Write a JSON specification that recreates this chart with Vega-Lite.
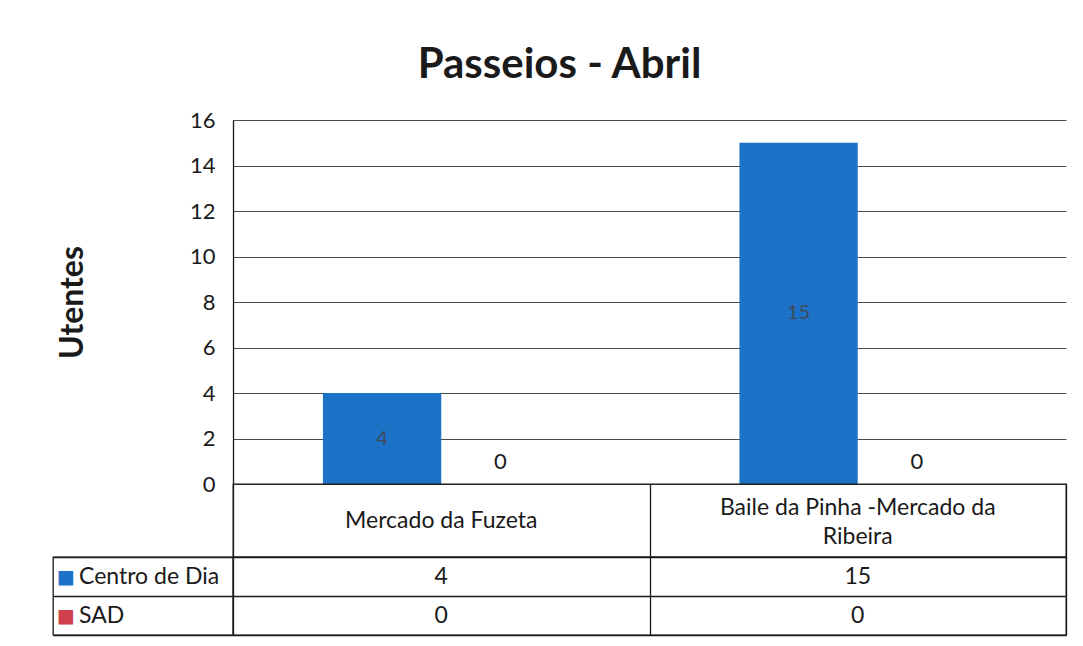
{
  "$schema": "https://vega.github.io/schema/vega-lite/v6.json",
  "background": "white",
  "padding": {"left": 52, "right": 18, "top": 44, "bottom": 11},
  "title": {"text": "Passeios - Abril", "font": "Lato", "fontSize": 42, "fontWeight": "bold", "color": "#1a1a1a", "anchor": "middle", "offset": 22},
  "datasets": {
    "main": [
      {"category": "Mercado da Fuzeta", "series": "Centro de Dia", "value": 4},
      {"category": "Mercado da Fuzeta", "series": "SAD", "value": 0},
      {"category": "Baile da Pinha -Mercado da Ribeira", "series": "Centro de Dia", "value": 15},
      {"category": "Baile da Pinha -Mercado da Ribeira", "series": "SAD", "value": 0}
    ],
    "cats": [
      {"category": "Mercado da Fuzeta", "label": ["Mercado da Fuzeta"]},
      {"category": "Baile da Pinha -Mercado da Ribeira", "label": ["Baile da Pinha -Mercado da", "Ribeira"]}
    ],
    "rows": [
      {"series": "Centro de Dia"},
      {"series": "SAD"}
    ]
  },
  "columns": 2,
  "spacing": 0,
  "bounds": "flush",
  "concat": [
    {
      "width": 180, "height": 364,
      "data": {"values": [{}]},
      "mark": {"type": "text", "text": ""},
      "view": {"stroke": null}
    },
    {
      "width": 833, "height": 364,
      "data": {"name": "main"},
      "view": {"stroke": null},
      "layer": [
        {
          "mark": {"type": "bar"},
          "encoding": {
            "x": {"field": "category", "type": "nominal", "sort": null, "scale": {"paddingInner": 0, "paddingOuter": 0}, "axis": null},
            "xOffset": {"field": "series", "type": "nominal", "sort": null, "scale": {"paddingInner": 0, "paddingOuter": 0.76}},
            "y": {"field": "value", "type": "quantitative", "scale": {"domain": [0, 16]},
              "axis": {"values": [0, 2, 4, 6, 8, 10, 12, 14, 16], "title": "Utentes", "titleFontSize": 32, "titleFontWeight": "bold", "titleColor": "#1a1a1a", "titlePadding": 100,
                "labelFontSize": 22, "labelColor": "#1a1a1a", "labelPadding": 18, "ticks": false, "domainColor": "#1a1a1a", "domainWidth": 1.3,
                "grid": true, "gridColor": "#4a4a4a", "gridWidth": 1.2, "minExtent": 44, "maxExtent": 44}},
            "color": {"field": "series", "type": "nominal", "scale": {"domain": ["Centro de Dia", "SAD"], "range": ["#1c72c6", "#d0404c"]}, "legend": null}
          }
        },
        {
          "transform": [{"filter": "datum.value > 0"}],
          "mark": {"type": "text", "baseline": "middle", "fontSize": 20, "color": "#3e4a5a"},
          "encoding": {
            "x": {"field": "category", "type": "nominal", "sort": null, "scale": {"paddingInner": 0, "paddingOuter": 0}, "axis": null},
            "xOffset": {"field": "series", "type": "nominal", "sort": null, "scale": {"paddingInner": 0, "paddingOuter": 0.76}},
            "y": {"field": "value", "type": "quantitative", "scale": {"domain": [0, 32]}, "axis": null},
            "text": {"field": "value", "type": "quantitative"}
          }
        },
        {
          "transform": [{"filter": "datum.value == 0"}],
          "mark": {"type": "text", "baseline": "middle", "fontSize": 22, "color": "#1a1a1a", "dy": -22},
          "encoding": {
            "x": {"field": "category", "type": "nominal", "sort": null, "scale": {"paddingInner": 0, "paddingOuter": 0}, "axis": null},
            "xOffset": {"field": "series", "type": "nominal", "sort": null, "scale": {"paddingInner": 0, "paddingOuter": 0.76}},
            "y": {"field": "value", "type": "quantitative", "scale": {"domain": [0, 16]}, "axis": null},
            "text": {"field": "value", "type": "quantitative"}
          }
        }
      ],
      "resolve": {"scale": {"y": "independent"}}
    },
    {
      "width": 180, "height": 73,
      "data": {"values": [{}]},
      "mark": {"type": "text", "text": ""},
      "view": {"stroke": null}
    },
    {
      "width": 833, "height": 73,
      "data": {"name": "cats"},
      "encoding": {
        "x": {"field": "category", "type": "nominal", "sort": null, "scale": {"paddingInner": 0, "paddingOuter": 0},
          "axis": {"title": null, "labels": false, "ticks": false, "domain": false, "grid": true, "tickBand": "extent", "gridColor": "#1a1a1a", "gridWidth": 1.3}},
        "text": {"field": "label"}
      },
      "layer": [
        {
          "transform": [{"filter": "length(datum.label) == 1"}],
          "mark": {"type": "text", "fontSize": 23, "lineHeight": 29, "baseline": "middle", "color": "#1a1a1a"}
        },
        {
          "transform": [{"filter": "length(datum.label) > 1"}],
          "mark": {"type": "text", "fontSize": 23, "lineHeight": 29, "baseline": "middle", "color": "#1a1a1a", "dy": -13}
        }
      ]
    },
    {
      "width": 180, "height": 78,
      "data": {"name": "rows"},
      "encoding": {
        "y": {"field": "series", "type": "nominal", "sort": null, "scale": {"paddingInner": 0, "paddingOuter": 0},
          "axis": {"title": null, "labels": false, "ticks": false, "domain": false, "grid": true, "tickBand": "extent", "gridColor": "#1a1a1a", "gridWidth": 1.3}}
      },
      "layer": [
        {
          "mark": {"type": "text", "text": "■", "font": "DejaVu Sans", "fontSize": 19, "align": "left", "baseline": "middle", "dx": -86},
          "encoding": {
            "color": {"field": "series", "type": "nominal", "scale": {"domain": ["Centro de Dia", "SAD"], "range": ["#1c72c6", "#d0404c"]}, "legend": null}
          }
        },
        {
          "mark": {"type": "text", "fontSize": 23, "align": "left", "baseline": "middle", "dx": -64, "color": "#1a1a1a"},
          "encoding": {
            "text": {"field": "series"}
          }
        }
      ]
    },
    {
      "width": 833, "height": 78,
      "data": {"name": "main"},
      "mark": {"type": "text", "fontSize": 23, "baseline": "middle", "color": "#1a1a1a"},
      "encoding": {
        "x": {"field": "category", "type": "nominal", "sort": null, "scale": {"paddingInner": 0, "paddingOuter": 0},
          "axis": {"title": null, "labels": false, "ticks": false, "domain": false, "grid": true, "tickBand": "extent", "gridColor": "#1a1a1a", "gridWidth": 1.3}},
        "y": {"field": "series", "type": "nominal", "sort": null, "scale": {"paddingInner": 0, "paddingOuter": 0},
          "axis": {"title": null, "labels": false, "ticks": false, "domain": false, "grid": true, "tickBand": "extent", "gridColor": "#1a1a1a", "gridWidth": 1.3}},
        "text": {"field": "value", "type": "quantitative"}
      }
    }
  ],
  "config": {
    "font": "Lato",
    "view": {"stroke": "#1a1a1a", "strokeWidth": 1.3}
  }
}
